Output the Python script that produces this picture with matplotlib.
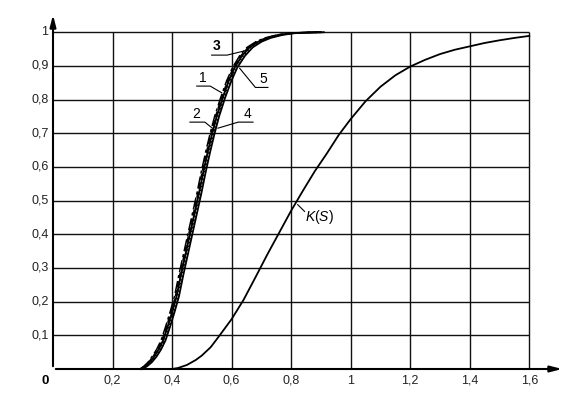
import matplotlib
matplotlib.use("Agg")
import matplotlib.pyplot as plt

plt.rcParams['font.family'] = ['Liberation Sans', 'DejaVu Sans']
plt.rcParams['mathtext.fontset'] = 'custom'
plt.rcParams['mathtext.rm'] = 'Liberation Sans'
plt.rcParams['mathtext.it'] = 'Liberation Sans:italic'

# Cluster curves 1..5 (shared probability levels)
y_levels = [0.0, 0.008, 0.02, 0.037, 0.058, 0.085, 0.125, 0.168, 0.215, 0.28, 0.34, 0.40, 0.46, 0.52,
            0.585, 0.645, 0.70, 0.75, 0.805, 0.855, 0.895, 0.93, 0.955, 0.972, 0.983, 0.992, 0.997, 0.999, 1.0]
x_curve1 = [0.292, 0.305, 0.319, 0.333, 0.348, 0.363, 0.378, 0.393, 0.408, 0.423, 0.438, 0.453, 0.468, 0.483,
            0.498, 0.513, 0.528, 0.543, 0.563, 0.583, 0.603, 0.627, 0.652, 0.682, 0.712, 0.752, 0.792, 0.842, 0.892]
x_curve2 = [0.294, 0.307, 0.321, 0.336, 0.351, 0.366, 0.381, 0.396, 0.411, 0.426, 0.441, 0.456, 0.471, 0.486,
            0.501, 0.516, 0.531, 0.546, 0.566, 0.586, 0.606, 0.631, 0.656, 0.686, 0.716, 0.756, 0.796, 0.846, 0.896]
x_curve3 = [0.296, 0.310, 0.325, 0.340, 0.355, 0.370, 0.385, 0.400, 0.415, 0.430, 0.445, 0.460, 0.475, 0.490,
            0.505, 0.520, 0.535, 0.550, 0.570, 0.590, 0.610, 0.635, 0.660, 0.690, 0.720, 0.760, 0.800, 0.850, 0.900]
x_curve4 = [0.298, 0.313, 0.329, 0.344, 0.359, 0.374, 0.389, 0.404, 0.419, 0.434, 0.449, 0.464, 0.479, 0.494,
            0.509, 0.524, 0.539, 0.554, 0.574, 0.594, 0.614, 0.639, 0.664, 0.694, 0.724, 0.764, 0.804, 0.854, 0.904]
x_curve5 = [0.300, 0.316, 0.332, 0.348, 0.363, 0.378, 0.393, 0.408, 0.423, 0.438, 0.453, 0.468, 0.483, 0.498,
            0.513, 0.528, 0.543, 0.558, 0.578, 0.599, 0.619, 0.645, 0.671, 0.701, 0.731, 0.771, 0.810, 0.860, 0.910]

# K(S) curve
k_x = [0.40, 0.42, 0.45, 0.48, 0.50, 0.53, 0.56, 0.60, 0.64, 0.68, 0.72, 0.76, 0.80, 0.84, 0.88, 0.92, 0.96,
       1.00, 1.05, 1.10, 1.15, 1.20, 1.25, 1.30, 1.35, 1.40, 1.45, 1.50, 1.55, 1.60]
k_y = [0.0, 0.003, 0.012, 0.027, 0.040, 0.065, 0.100, 0.148, 0.205, 0.272, 0.340, 0.405, 0.470, 0.530, 0.588,
       0.640, 0.695, 0.742, 0.795, 0.838, 0.872, 0.898, 0.918, 0.935, 0.948, 0.958, 0.968, 0.976, 0.983, 0.989]

x_ticks = [0.2, 0.4, 0.6, 0.8, 1.0, 1.2, 1.4, 1.6]
x_tick_labels = ["0,2", "0,4", "0,6", "0,8", "1", "1,2", "1,4", "1,6"]
y_ticks = [0.1, 0.2, 0.3, 0.4, 0.5, 0.6, 0.7, 0.8, 0.9, 1.0]
y_tick_labels = ["0,1", "0,2", "0,3", "0,4", "0,5", "0,6", "0,7", "0,8", "0,9", "1"]

fig = plt.figure(figsize=(5.70, 3.99), dpi=100)
ax = fig.add_axes([53/570, 30/399, 512/570, 357/399])
ax.set_xlim(0, 1.72)
ax.set_ylim(0, 1.06)
ax.axis('off')

gc = '#111111'
ax.vlines(x_ticks, 0, 1.0, colors=gc, linewidth=1.0)
ax.hlines(y_ticks, 0, 1.6, colors=gc, linewidth=1.0)

# axes with arrows
ax.annotate('', xy=(1.72, 0), xytext=(0, 0),
            arrowprops=dict(arrowstyle='-|>,head_length=0.7,head_width=0.18', color='black', lw=1.5),
            annotation_clip=False)
ax.annotate('', xy=(0, 1.06), xytext=(0, 0),
            arrowprops=dict(arrowstyle='-|>,head_length=0.7,head_width=0.18', color='black', lw=1.5),
            annotation_clip=False)

# curves
ax.plot(x_curve1, y_levels, color='black', lw=1.1, ls=(0, (8, 2, 2, 2)), clip_on=False)
ax.plot(x_curve2, y_levels, color='black', lw=1.1, ls=(0, (4, 2)), clip_on=False)
ax.plot(x_curve3, y_levels, color='black', lw=1.4, ls='-', clip_on=False)
ax.plot(x_curve4, y_levels, color='black', lw=1.1, ls=(0, (1, 1.5)), clip_on=False)
ax.plot(x_curve5, y_levels, color='black', lw=1.3, ls='-', clip_on=False)
ax.plot(k_x, k_y, color='black', lw=1.3, clip_on=False)

# tick labels
fs = 9
for xv, lab in zip(x_ticks, x_tick_labels):
    ax.text(xv, -0.017, lab, ha='center', va='top', fontsize=fs, color='#222222')
for yv, lab in zip(y_ticks, y_tick_labels):
    ax.text(-0.015, yv, lab, ha='right', va='center', fontsize=fs, color='#222222')
ax.text(-0.027, -0.017, "0", ha='center', va='top', fontsize=fs + 0.5, fontweight='bold')

# curve labels with leader lines
lk = dict(color='black', lw=0.8, clip_on=False)
# 3
ax.text(0.548, 0.937, "3", ha='center', va='bottom', fontsize=10, fontweight='bold')
ax.plot([0.533, 0.585, 0.655], [0.932, 0.932, 0.947], **lk)
# 1
ax.text(0.503, 0.843, "1", ha='center', va='bottom', fontsize=10)
ax.plot([0.483, 0.528, 0.567], [0.840, 0.840, 0.820], **lk)
# 5
ax.text(0.707, 0.839, "5", ha='center', va='bottom', fontsize=10)
ax.plot([0.722, 0.680, 0.627], [0.836, 0.836, 0.893], **lk)
# 2
ax.text(0.482, 0.736, "2", ha='center', va='bottom', fontsize=10)
ax.plot([0.460, 0.510, 0.544], [0.733, 0.733, 0.709], **lk)
# 4
ax.text(0.655, 0.736, "4", ha='center', va='bottom', fontsize=10)
ax.plot([0.672, 0.622, 0.554], [0.733, 0.733, 0.715], **lk)
# K(S)
ax.text(0.848, 0.452, r"$K$($S$)", ha='left', va='center', fontsize=10)
ax.plot([0.845, 0.822], [0.468, 0.488], **lk)

fig.savefig("out.png", dpi=100, facecolor='white')
